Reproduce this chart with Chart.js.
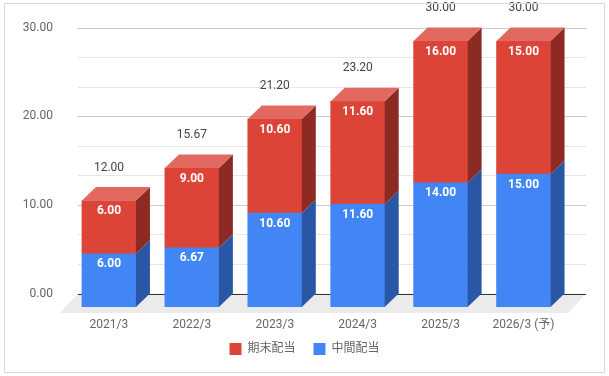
<!DOCTYPE html>
<html>
<head>
<meta charset="utf-8">
<script src="https://cdn.jsdelivr.net/npm/chart.js@4.4.1/dist/chart.umd.min.js"></script>
<style>
  html, body { margin: 0; padding: 0; background: #fff; }
  canvas { display: block; }
</style>
</head>
<body>
<canvas id="dividendChart" width="609" height="376"></canvas>
<script>
// data
var categories = ['2021/3', '2022/3', '2023/3', '2024/3', '2025/3', '2026/3 (予)'];
var interimValues = [6.00, 6.67, 10.60, 11.60, 14.00, 15.00];   // 中間配当
var yearEndValues = [6.00, 9.00, 10.60, 11.60, 16.00, 15.00];   // 期末配当
var totalLabels = ['12.00', '15.67', '21.20', '23.20', '30.00', '30.00'];
var yMin = 0, yMax = 30, yStep = 10, yMinorStep = 10 / 3;

var FONT = 'Roboto, "Noto Sans CJK JP", sans-serif';
var depthX = 14, depthY = 13.5;

// front / top / side colour per dataset
var faceColors = [
    { front: '#4285F4', top: '#6a9ff6', side: '#2A56A6' },
    { front: '#DB4437', top: '#E2695F', side: '#8C2A23' }
];

var fakeDepth = {
    id: 'fakeDepth',
    afterLayout: function (chart) {
        // legend sits closer to the axis and is centred on the whole canvas
        chart.legend.top -= 8;
        chart.legend.bottom -= 8;
        chart.legend.left = 0;
        chart.legend.right = chart.width;
    },
    beforeDatasetsDraw: function (chart) {
        var ctx = chart.ctx;
        var area = chart.chartArea;
        var y = chart.scales.y;
        var base = y.getPixelForValue(0);

        ctx.save();
        // floor
        ctx.fillStyle = '#ebebeb';
        ctx.beginPath();
        ctx.moveTo(area.left - 7.5, base + 6);
        ctx.lineTo(area.right + 3, base + 6);
        ctx.lineTo(area.right + 21, base - depthY);
        ctx.lineTo(area.left + 10.5, base - depthY);
        ctx.closePath();
        ctx.fill();

        // gridlines on the back wall
        ctx.lineWidth = 1;
        for (var v = yMin + yMinorStep; v <= yMax + 0.001; v += yMinorStep) {
            var gy = Math.round(y.getPixelForValue(v) - depthY) + 0.5;
            var major = Math.abs(v / yStep - Math.round(v / yStep)) < 0.001;
            ctx.strokeStyle = major ? '#cccccc' : '#e6e6e6';
            ctx.beginPath();
            ctx.moveTo(area.left + 10.5, gy);
            ctx.lineTo(area.right + 21, gy);
            ctx.stroke();
        }
        // baseline
        var by = Math.round(base - depthY) + 0.5;
        ctx.strokeStyle = '#333333';
        ctx.beginPath();
        ctx.moveTo(area.left + 10.5, by);
        ctx.lineTo(area.right + 21, by);
        ctx.stroke();
        ctx.restore();
    },
    afterDatasetsDraw: function (chart) {
        var ctx = chart.ctx;
        var nSets = chart.data.datasets.length;
        ctx.save();
        for (var i = 0; i < categories.length; i++) {
            var stackTop = null, cx = 0;
            for (var d = 0; d < nSets; d++) {
                var bar = chart.getDatasetMeta(d).data[i];
                var p = bar.getProps(['x', 'y', 'base', 'width'], true);
                var left = p.x - p.width / 2, right = p.x + p.width / 2;
                var top = Math.min(p.y, p.base), bottom = Math.max(p.y, p.base);
                var col = faceColors[d];

                // side face
                ctx.fillStyle = col.side;
                ctx.beginPath();
                ctx.moveTo(right, top);
                ctx.lineTo(right + depthX, top - depthY);
                ctx.lineTo(right + depthX, bottom - depthY);
                ctx.lineTo(right, bottom);
                ctx.closePath();
                ctx.fill();

                if (d === nSets - 1) {
                    // top face only on the highest segment
                    ctx.fillStyle = col.top;
                    ctx.beginPath();
                    ctx.moveTo(left, top);
                    ctx.lineTo(left + depthX, top - depthY);
                    ctx.lineTo(right + depthX, top - depthY);
                    ctx.lineTo(right, top);
                    ctx.closePath();
                    ctx.fill();
                }

                // value inside the segment
                ctx.fillStyle = '#ffffff';
                ctx.font = 'bold 12px ' + FONT;
                ctx.textAlign = 'center';
                ctx.textBaseline = 'middle';
                ctx.fillText(chart.data.datasets[d].data[i].toFixed(2), p.x, top + 10.5);

                stackTop = top;
                cx = p.x;
            }
            // total above the bar
            ctx.fillStyle = '#444444';
            ctx.font = '12px ' + FONT;
            ctx.textAlign = 'center';
            ctx.textBaseline = 'middle';
            ctx.fillText(totalLabels[i], cx, stackTop - 33);
        }
        ctx.restore();
    },
    afterDraw: function (chart) {
        var ctx = chart.ctx;
        ctx.save();
        ctx.strokeStyle = '#d9d9d9';
        ctx.lineWidth = 1;
        ctx.strokeRect(4.5, 3.5, chart.width - 9, chart.height - 7);
        ctx.restore();
    }
};

var ctx = document.getElementById('dividendChart').getContext('2d');

var chart = new Chart(ctx, {
    type: 'bar',
    data: {
        labels: categories,
        datasets: [{
            label: '中間配当',
            data: interimValues,
            backgroundColor: faceColors[0].front,
            borderWidth: 0,
            barThickness: 54
        }, {
            label: '期末配当',
            data: yearEndValues,
            backgroundColor: faceColors[1].front,
            borderWidth: 0,
            barThickness: 54
        }]
    },
    plugins: [fakeDepth],
    options: {
        responsive: false,
        animation: false,
        devicePixelRatio: 1,
        layout: {
            padding: { top: 41, right: 44, bottom: 3, left: 0 }
        },
        scales: {
            x: {
                stacked: true,
                grid: { display: false, drawTicks: false },
                border: { display: false },
                ticks: {
                    padding: 10.8,
                    color: '#666666',
                    font: { family: FONT, size: 12 }
                },
                afterFit: function (scale) { scale.height = 26; }
            },
            y: {
                stacked: true,
                min: yMin,
                max: yMax,
                grid: { display: false, drawTicks: false },
                border: { display: false },
                ticks: {
                    stepSize: yStep,
                    padding: 14.5,
                    labelOffset: -depthY,
                    color: '#666666',
                    font: { family: FONT, size: 12 },
                    callback: function (v) { return Number(v).toFixed(2); }
                },
                afterFit: function (scale) { scale.width = 67.5; }
            }
        },
        plugins: {
            legend: {
                position: 'bottom',
                reverse: true,
                labels: {
                    boxWidth: 12,
                    boxHeight: 12,
                    padding: 18,
                    color: '#666666',
                    font: { family: FONT, size: 12 }
                }
            },
            tooltip: { enabled: false }
        }
    }
});
</script>
</body>
</html>
